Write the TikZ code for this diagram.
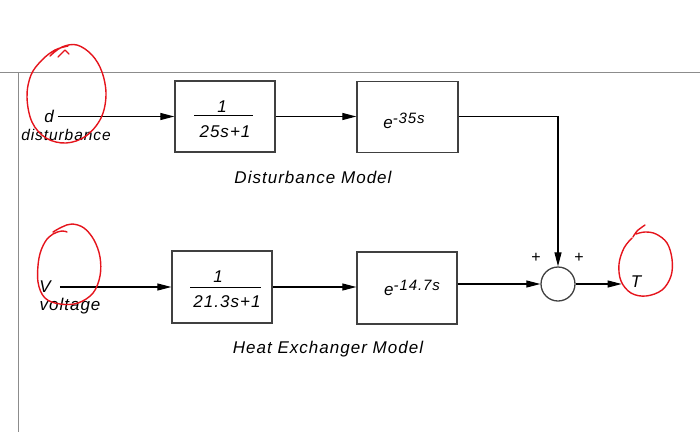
\documentclass[tikz,border=0pt]{standalone}
\usepackage{fontspec}
\setmainfont{Liberation Sans}[LetterSpace=6]
\usetikzlibrary{arrows.meta}
\definecolor{boxc}{HTML}{404040}
\definecolor{framec}{HTML}{8C8C8C}
\definecolor{inkred}{HTML}{E5141C}
\begin{document}
\begin{tikzpicture}[x=1pt,y=-1pt,
  font=\fontsize{17}{20}\selectfont\itshape,
  blk/.style={draw=boxc, line width=1.3pt, minimum width=100pt, minimum height=71pt, inner sep=0pt},
  arr/.style={-{Triangle[length=14pt,width=7pt]}, line width=1.1pt},
  lbl/.style={anchor=base, inner sep=0pt},
  bar/.style={line width=1pt},
  redink/.style={draw=inkred, line width=1.4pt, line cap=round, line join=round}]
\useasboundingbox (0,0) rectangle (700,432);
% frame lines
\draw[framec, line width=1pt] (0,72) -- (700,72);
\draw[framec, line width=1pt] (18,72) -- (18,432);
% blocks
\node[blk] (b1) at (225,116.5) {};
\node[blk, minimum width=101pt] (b2) at (407.5,117) {};
\node[blk, minimum height=72pt] (b3) at (222,287) {};
\node[blk, minimum height=72pt] (b4) at (407,288) {};
\node[draw=boxc, circle, line width=1.3pt, minimum size=34pt, inner sep=0pt] (sum) at (558,284) {};
% block texts
\node[lbl] (n1) at (222,112) {1};
\draw[bar] (194,115) -- (253,115);
\node[lbl] (d1) at (225,137) {25s+1};
\node[lbl] (n3) at (218,282) {1};
\draw[bar] (190,287) -- (261,287);
\node[lbl] (d3) at (227,307) {21.3s+1};
\node[lbl] (e2) at (404,128) {e\raisebox{5pt}{\fontsize{15}{17}\selectfont -35s}};
\node[lbl] (e4) at (412,295) {e\raisebox{5pt}{\fontsize{15}{17}\selectfont -14.7s}};
% labels
\node[lbl] (dl) at (49,122) {d};
\node[lbl, font=\fontsize{15.5}{18}\selectfont\itshape] (dist) at (66,140) {disturbance};
\node[lbl] (vl) at (45,292) {V};
\node[lbl] (volt) at (70,310) {voltage};
\node[lbl] (tl) at (636,287) {T};
\node[lbl] (dm) at (313,183) {Disturbance Model};
\node[lbl] (hm) at (328,353) {Heat Exchanger Model};
\node[lbl, font=\fontsize{16}{18}\selectfont\upshape] (pl) at (536,262) {+};
\node[lbl, font=\fontsize{16}{18}\selectfont\upshape] (pr) at (579,262) {+};
% connectors
\draw[arr] ([xshift=4pt]dl.east |- b1.west) -- (b1.west);
\draw[arr] (b1.east) -- (b1.east -| b2.west);
\draw[arr] (b2.east |- b1.east) -| (sum.north);
\draw[arr] ([xshift=9pt]vl.east |- b3.west) -- (b3.west);
\draw[arr] (b3.east) -- (b3.east -| b4.west);
\draw[arr] (b4.east |- sum.west) -- (sum.west);
\draw[arr] (sum.east) -- ([xshift=-9pt]tl.west |- sum.east);
% red hand-drawn circles
\draw[redink] plot[smooth, tension=0.6] coordinates {(50,56) (62,47) (77,45) (92,55) (102,72) (106,95) (101,118) (86,136) (66,143) (46,138) (32,122) (27,97) (31,75) (42,60) (55,50) (68,46)};
\draw[redink] (58,57) -- (65,50) -- (69,54);
\draw[redink] plot[smooth, tension=0.6] coordinates {(53,232) (62,227) (72,224) (84,228) (94,240) (100,257) (100,276) (93,293) (78,303) (60,304) (45,298) (38,282) (39,258) (45,242) (53,234) (62,231) (67,232)};
\draw[redink] plot[smooth, tension=0.6] coordinates {(645,225) (637,231) (633,237)};
\draw[redink] plot[smooth, tension=0.6] coordinates {(636,234) (645,232) (656,234) (667,243) (672,259) (671,276) (662,290) (646,296) (631,293) (621,281) (619,264) (624,248) (632,238)};
\end{tikzpicture}
\end{document}
